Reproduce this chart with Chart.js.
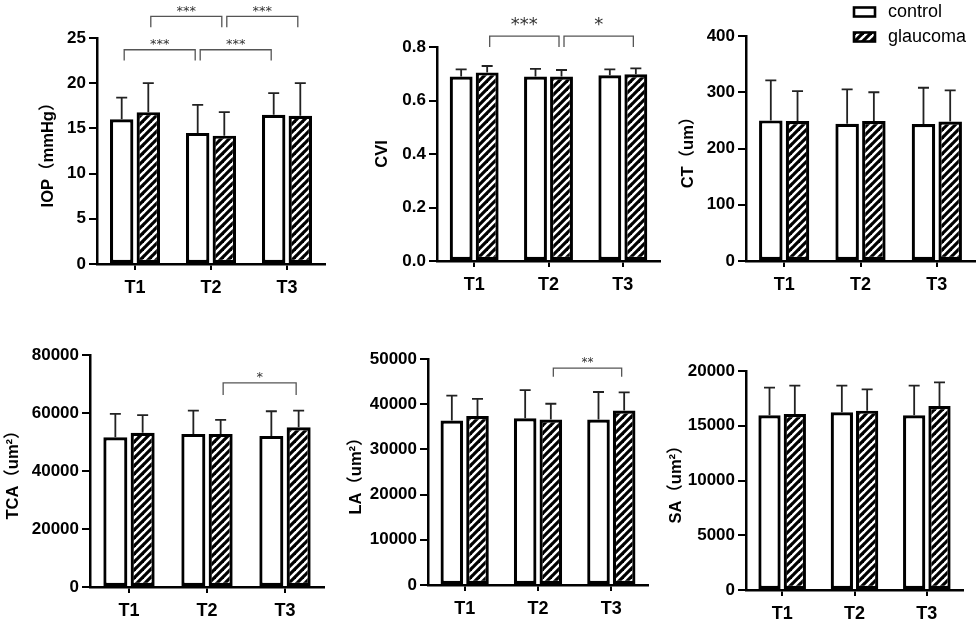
<!DOCTYPE html>
<html>
<head>
<meta charset="utf-8">
<script src="https://cdn.jsdelivr.net/npm/chart.js@4.4.1/dist/chart.umd.min.js"></script>
<style>
html,body{margin:0;padding:0;background:#fff;}
#wrap{position:relative;width:976px;height:619px;overflow:hidden;background:#fff;}
#wrap canvas{position:absolute;left:0;top:0;}
</style>
</head>
<body>
<div id="wrap">
<canvas id="c1" width="976" height="619"></canvas>
<canvas id="c2" width="976" height="619"></canvas>
<canvas id="c3" width="976" height="619"></canvas>
<canvas id="c4" width="976" height="619"></canvas>
<canvas id="c5" width="976" height="619"></canvas>
<canvas id="c6" width="976" height="619"></canvas>
</div>
<script>
// ---------------- DATA ----------------
const categories = ['T1', 'T2', 'T3'];
const seriesNames = ['control', 'glaucoma'];

// IOP (mmHg)
const iopControl = [16.0, 14.5, 16.5];
const iopControlSD = [2.4, 3.1, 2.4];
const iopGlaucoma = [16.8, 14.2, 16.4];
const iopGlaucomaSD = [3.2, 2.6, 3.6];
const iopTicks = [0, 5, 10, 15, 20, 25];
const iopTickLabels = ['0', '5', '10', '15', '20', '25'];
// bracket: from [category, series] to [category, series], line level, leg end level
const iopBrackets = [
  { from: [0, 0], to: [1, 0], y: 23.7, leg: 22.5, label: '***' },
  { from: [1, 0], to: [2, 0], y: 23.7, leg: 22.5, label: '***' },
  { from: [0, 1], to: [1, 1], y: 27.4, leg: 26.2, label: '***' },
  { from: [1, 1], to: [2, 1], y: 27.4, leg: 26.2, label: '***' }
];

// CVI
const cviControl = [0.690, 0.690, 0.694];
const cviControlSD = [0.026, 0.028, 0.022];
const cviGlaucoma = [0.705, 0.690, 0.698];
const cviGlaucomaSD = [0.024, 0.024, 0.022];
const cviTicks = [0, 0.2, 0.4, 0.6, 0.8];
const cviTickLabels = ['0.0', '0.2', '0.4', '0.6', '0.8'];
const cviBrackets = [
  { from: [0, 1], to: [1, 1], y: 0.841, leg: 0.80, label: '***' },
  { from: [1, 1], to: [2, 1], y: 0.841, leg: 0.80, label: '*' }
];

// CT (um)
const ctControl = [250, 244, 243.5];
const ctControlSD = [71, 61, 64.5];
const ctGlaucoma = [249, 249, 248];
const ctGlaucomaSD = [53, 51, 55.5];
const ctTicks = [0, 100, 200, 300, 400];
const ctTickLabels = ['0', '100', '200', '300', '400'];
const ctBrackets = [];

// TCA (um²)
const tcaControl = [51600, 52800, 52100];
const tcaControlSD = [8100, 8000, 8500];
const tcaGlaucoma = [53200, 52800, 55100];
const tcaGlaucomaSD = [6100, 4800, 5700];
const tcaTicks = [0, 20000, 40000, 60000, 80000];
const tcaTickLabels = ['0', '20000', '40000', '60000', '80000'];
const tcaBrackets = [
  { from: [1, 1], to: [2, 1], y: 70400, leg: 66200, label: '*' }
];

// LA (um²)
const laControl = [36400, 36900, 36600];
const laControlSD = [5500, 6200, 6100];
const laGlaucoma = [37400, 36600, 38600];
const laGlaucomaSD = [3800, 3500, 4000];
const laTicks = [0, 10000, 20000, 30000, 40000, 50000];
const laTickLabels = ['0', '10000', '20000', '30000', '40000', '50000'];
const laBrackets = [
  { from: [1, 1], to: [2, 1], y: 48000, leg: 46100, label: '**' }
];

// SA (um²)
const saControl = [15950, 16230, 15950];
const saControlSD = [2530, 2430, 2710];
const saGlaucoma = [16070, 16380, 16800];
const saGlaucomaSD = [2590, 1950, 2170];
const saTicks = [0, 5000, 10000, 15000, 20000];
const saTickLabels = ['0', '5000', '10000', '15000', '20000'];
const saBrackets = [];

// ---------------- STYLE / LAYOUT ----------------
const FONT = "'Liberation Sans', Arial, 'Noto Sans CJK SC', sans-serif";
const STAR_FONT = "'DejaVu Sans', sans-serif";
const TITLE_SIZE = 16.5;
const TITLE_LH = 1.2;
const X_AXIS_H = 40;

const panels = [
  { id: 'c1', title: 'IOP（mmHg）', c: iopControl, cs: iopControlSD, g: iopGlaucoma, gs: iopGlaucomaSD,
    ticks: iopTicks, tickLabels: iopTickLabels, brackets: iopBrackets,
    geo: { axisX: 97, top: 38, bottom: 264, right: 325, titleCx: 48 }, star: { size: 13, gap: 8.5 } },
  { id: 'c2', title: 'CVI', c: cviControl, cs: cviControlSD, g: cviGlaucoma, gs: cviGlaucomaSD,
    ticks: cviTicks, tickLabels: cviTickLabels, brackets: cviBrackets,
    geo: { axisX: 437, top: 47, bottom: 261, right: 660, titleCx: 382 }, star: { size: 18, gap: 16 } },
  { id: 'c3', title: 'CT（um）', c: ctControl, cs: ctControlSD, g: ctGlaucoma, gs: ctGlaucomaSD,
    ticks: ctTicks, tickLabels: ctTickLabels, brackets: ctBrackets,
    geo: { axisX: 746, top: 36, bottom: 261, right: 975, titleCx: 688 }, star: { size: 13, gap: 9 }, legend: true },
  { id: 'c4', title: 'TCA（um²）', c: tcaControl, cs: tcaControlSD, g: tcaGlaucoma, gs: tcaGlaucomaSD,
    ticks: tcaTicks, tickLabels: tcaTickLabels, brackets: tcaBrackets,
    geo: { axisX: 90, top: 355, bottom: 587, right: 324, titleCx: 13 }, star: { size: 13, gap: 8.5 } },
  { id: 'c5', title: 'LA（um²）', c: laControl, cs: laControlSD, g: laGlaucoma, gs: laGlaucomaSD,
    ticks: laTicks, tickLabels: laTickLabels, brackets: laBrackets,
    geo: { axisX: 428, top: 359, bottom: 585, right: 648, titleCx: 356 }, star: { size: 12, gap: 8.5 } },
  { id: 'c6', title: 'SA（um²）', c: saControl, cs: saControlSD, g: saGlaucoma, gs: saGlaucomaSD,
    ticks: saTicks, tickLabels: saTickLabels, brackets: saBrackets,
    geo: { axisX: 746, top: 371, bottom: 590, right: 963, titleCx: 676 }, star: { size: 13, gap: 9 } }
];

function makeHatch() {
  const s = 8;
  const cv = document.createElement('canvas');
  cv.width = s; cv.height = s;
  const x = cv.getContext('2d');
  x.fillStyle = '#fff';
  x.fillRect(0, 0, s, s);
  x.strokeStyle = '#000';
  x.lineWidth = 3.2;
  x.lineCap = 'square';
  [0, s, 2 * s].forEach(k => {
    x.beginPath();
    x.moveTo(k + 2, -2);
    x.lineTo(-2, k + 2);
    x.stroke();
  });
  return x.createPattern(cv, 'repeat');
}
const HATCH = makeHatch();

function errorBarPlugin(p) {
  return {
    id: 'errbars_' + p.id,
    afterDatasetsDraw(chart) {
      const ctx = chart.ctx;
      const ys = chart.scales.y;
      const sds = [p.cs, p.gs];
      chart.data.datasets.forEach((ds, di) => {
        const meta = chart.getDatasetMeta(di);
        meta.data.forEach((el, i) => {
          const top = ys.getPixelForValue(ds.data[i] + sds[di][i]);
          ctx.save();
          ctx.strokeStyle = '#222';
          ctx.lineWidth = 1.8;
          ctx.beginPath();
          ctx.moveTo(el.x, el.y);
          ctx.lineTo(el.x, top);
          ctx.moveTo(el.x - 5.5, top);
          ctx.lineTo(el.x + 5.5, top);
          ctx.stroke();
          ctx.restore();
        });
      });
    }
  };
}

function bracketPlugin(p) {
  return {
    id: 'brackets_' + p.id,
    afterDraw(chart) {
      const ctx = chart.ctx;
      const ys = chart.scales.y;
      p.brackets.forEach(b => {
        const e0 = chart.getDatasetMeta(b.from[1]).data[b.from[0]];
        const e1 = chart.getDatasetMeta(b.to[1]).data[b.to[0]];
        const x0 = e0.x + 2.5, x1 = e1.x - 2.5;
        const yl = ys.getPixelForValue(b.y);
        const yg = ys.getPixelForValue(b.leg);
        ctx.save();
        ctx.strokeStyle = '#555';
        ctx.lineWidth = 1.3;
        ctx.beginPath();
        ctx.moveTo(x0, yg);
        ctx.lineTo(x0, yl);
        ctx.lineTo(x1, yl);
        ctx.lineTo(x1, yg);
        ctx.stroke();
        ctx.fillStyle = '#333';
        ctx.font = p.star.size + 'px ' + STAR_FONT;
        ctx.textAlign = 'center';
        ctx.textBaseline = 'alphabetic';
        ctx.fillText(b.label, (x0 + x1) / 2, yl - p.star.gap + 0.545 * p.star.size);
        ctx.restore();
      });
    }
  };
}

const legendPlugin = {
  id: 'customLegend',
  afterDraw(chart) {
    const ctx = chart.ctx;
    const items = [
      { fill: '#fff', y: 12 },
      { fill: HATCH, y: 37 }
    ];
    items.forEach((it, i) => {
      ctx.save();
      ctx.fillStyle = it.fill;
      ctx.fillRect(854, it.y - 4.5, 21, 9);
      ctx.strokeStyle = '#000';
      ctx.lineWidth = 2.6;
      ctx.strokeRect(854, it.y - 4.5, 21, 9);
      ctx.fillStyle = '#000';
      ctx.font = '18px ' + FONT;
      ctx.textAlign = 'left';
      ctx.textBaseline = 'middle';
      ctx.fillText(chart.data.datasets[i].label, 888, it.y);
      ctx.restore();
    });
  }
};

panels.forEach(p => {
  const g = p.geo;
  const padLeft = g.titleCx - TITLE_SIZE * TITLE_LH / 2;
  const yWidth = g.axisX - padLeft;
  const plugins = [errorBarPlugin(p), bracketPlugin(p)];
  if (p.legend) plugins.push(legendPlugin);
  new Chart(document.getElementById(p.id), {
    type: 'bar',
    data: {
      labels: categories,
      datasets: [
        { label: seriesNames[0], data: p.c, backgroundColor: '#fff', borderColor: '#000', borderWidth: 3.2,
          borderSkipped: false, categoryPercentage: 0.7, barPercentage: 0.88 },
        { label: seriesNames[1], data: p.g, backgroundColor: HATCH, borderColor: '#000', borderWidth: 3.2,
          borderSkipped: false, categoryPercentage: 0.7, barPercentage: 0.88 }
      ]
    },
    options: {
      responsive: false,
      animation: false,
      devicePixelRatio: 1,
      layout: { padding: { left: padLeft, top: g.top, right: 976 - g.right, bottom: 619 - g.bottom - X_AXIS_H } },
      plugins: { legend: { display: false }, tooltip: { enabled: false } },
      scales: {
        x: {
          grid: { display: true, drawOnChartArea: false, drawTicks: true, tickLength: 6, color: '#000', lineWidth: 2, offset: false },
          border: { display: true, color: '#000', width: 2.5 },
          ticks: { color: '#000', padding: 7, font: { family: FONT, size: 18, weight: 'bold' } },
          afterFit(s) { s.height = X_AXIS_H; }
        },
        y: {
          min: p.ticks[0],
          max: p.ticks[p.ticks.length - 1],
          afterBuildTicks(s) { s.ticks = p.ticks.map(v => ({ value: v })); },
          grid: { display: true, drawOnChartArea: false, drawTicks: true, tickLength: 8, color: '#000', lineWidth: 2 },
          border: { display: true, color: '#000', width: 2.5 },
          ticks: {
            color: '#000', padding: 3, font: { family: FONT, size: 17, weight: 'bold' },
            callback(v, i) { return p.tickLabels[i]; }
          },
          title: {
            display: true, text: p.title, color: '#000', padding: { top: 0, bottom: 0 },
            font: { family: FONT, size: TITLE_SIZE, weight: 'bold', lineHeight: TITLE_LH }
          },
          afterFit(s) { s.width = yWidth; }
        }
      }
    },
    plugins: plugins
  });
});
</script>
</body>
</html>
